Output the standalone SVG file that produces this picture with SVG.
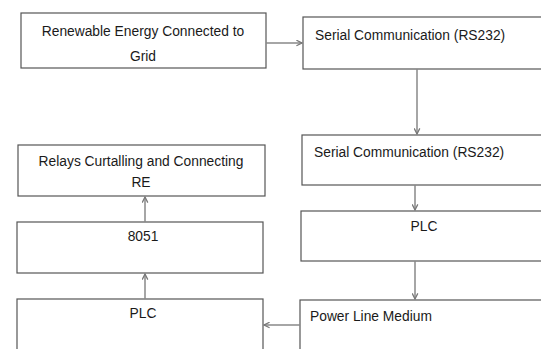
<svg xmlns="http://www.w3.org/2000/svg" width="541" height="349" viewBox="0 0 541 349">
<style>
.box{fill:#fff;stroke:#555;stroke-width:1.2}
.t{font-family:"Liberation Sans",Arial,sans-serif;font-size:13.8px;fill:#1a1a1a}
.c{text-anchor:middle}
.con{fill:none;stroke:#888;stroke-width:1.5;marker-end:url(#ah)}
</style>
<defs>
<marker id="ah" viewBox="0 0 10 10" refX="9" refY="5" markerWidth="7" markerHeight="7" markerUnits="userSpaceOnUse" orient="auto">
<path d="M1,1 L9,5 L1,9" fill="none" stroke="#777" stroke-width="1.8"/>
</marker>
</defs>
<rect width="541" height="349" fill="#fff"/>
<g id="n1"><rect class="box" x="21" y="13" width="245" height="55"/>
<text class="t c" x="143" y="36">Renewable Energy Connected to</text>
<text class="t c" x="143" y="61">Grid</text></g>
<g id="n2"><rect class="box" x="303" y="17" width="250" height="52"/>
<text class="t" x="315" y="40">Serial Communication (RS232)</text></g>
<g id="n3"><rect class="box" x="302" y="135" width="250" height="50"/>
<text class="t" x="314" y="157">Serial Communication (RS232)</text></g>
<g id="n4"><rect class="box" x="301" y="211" width="250" height="50"/>
<text class="t c" x="424" y="231">PLC</text></g>
<g id="n5"><rect class="box" x="300" y="300" width="250" height="60"/>
<text class="t" x="310" y="321">Power Line Medium</text></g>
<g id="n6"><rect class="box" x="18" y="145" width="247" height="51"/>
<text class="t c" x="141" y="166">Relays Curtalling and Connecting</text>
<text class="t c" x="141" y="187">RE</text></g>
<g id="n7"><rect class="box" x="17" y="222" width="246" height="51"/>
<text class="t c" x="143" y="241">8051</text></g>
<g id="n8"><rect class="box" x="17" y="299" width="246" height="60"/>
<text class="t c" x="143" y="318">PLC</text></g>
<g id="connectors">
<line class="con" x1="266" y1="43" x2="302" y2="43"/>
<line class="con" x1="417" y1="69" x2="417" y2="134"/>
<line class="con" x1="415" y1="185" x2="415" y2="210"/>
<line class="con" x1="415" y1="261" x2="415" y2="299"/>
<line class="con" x1="300" y1="325" x2="264" y2="325"/>
<line class="con" x1="145" y1="299" x2="145" y2="274"/>
<line class="con" x1="145" y1="222" x2="145" y2="197"/>
</g>
</svg>
